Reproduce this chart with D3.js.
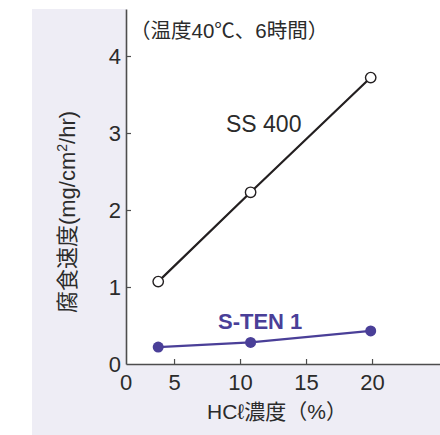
<!DOCTYPE html>
<html><head><meta charset="utf-8">
<script src="https://cdn.jsdelivr.net/npm/d3@7/dist/d3.min.js"></script>
<style>
html,body{margin:0;padding:0;background:#fff;}
svg{display:block;}
text{font-family:"Liberation Sans","Noto Sans CJK JP",sans-serif;}
</style></head>
<body>
<svg id="chart" width="440" height="435"></svg>
<script>
// ---- data ----
const hclConcentration = [3.8, 10.8, 19.9];      // HCℓ濃度 (%)
const ss400Rate = [1.07, 2.23, 3.72];            // SS 400 腐食速度
const sten1Rate = [0.22, 0.28, 0.43];            // S-TEN 1 腐食速度
const xTickValues = [5, 10, 15, 20];
const xOriginLabel = "0";
const yTickValues = [0, 1, 2, 3, 4];
const seriesNames = ["SS 400", "S-TEN 1"];
const xTitle = "HCℓ濃度（%）";
const yTitleMain = "腐食速度(mg/cm";
const yTitleSup = "2";
const yTitleEnd = "/hr)";
const note = "（温度40℃、6時間）";

// ---- layout ----
const svg = d3.select("#chart");
const W = 440, H = 435;
const panel = {x: 32, y: 9};
const plot = {left: 126, top: 9, right: 440, bottom: 364};

svg.append("rect").attr("x", panel.x).attr("y", panel.y)
  .attr("width", W - panel.x).attr("height", H - panel.y).attr("fill", "#eeedf5");
svg.append("rect").attr("x", plot.left).attr("y", plot.top)
  .attr("width", plot.right - plot.left).attr("height", plot.bottom - plot.top).attr("fill", "#ffffff");

const x = d3.scaleLinear().domain([1.36, 25.15]).range([plot.left, plot.right]);
const y = d3.scaleLinear().domain([0, (plot.bottom - plot.top) / 77]).range([plot.bottom, plot.top]);

const axisColor = "#4d4d4d";
const labelColor = "#2b2b2b";

const gx = svg.append("g").attr("transform", `translate(0,${plot.bottom})`)
  .call(d3.axisBottom(x).tickValues(xTickValues).tickFormat(d3.format("d"))
    .tickSizeInner(-5).tickSizeOuter(0).tickPadding(10));
const gy = svg.append("g").attr("transform", `translate(${plot.left},0)`)
  .call(d3.axisLeft(y).tickValues(yTickValues).tickFormat(d3.format("d"))
    .tickSizeInner(-5).tickSizeOuter(0).tickPadding(5));

[gx, gy].forEach(g => {
  g.select(".domain").attr("stroke", axisColor).attr("stroke-width", 1.6);
  g.selectAll(".tick line").attr("stroke", axisColor).attr("stroke-width", 1.2);
  g.selectAll(".tick text").attr("fill", labelColor).style("font-size", "22px")
    .style("font-family", "'Liberation Sans', sans-serif");
});
gy.selectAll(".tick").filter(d => d === 0).select("line").remove();

// x origin label "0"
svg.append("text").attr("x", x.range()[0]).attr("y", plot.bottom + 10).attr("dy", "0.71em")
  .attr("text-anchor", "middle").attr("fill", labelColor).style("font-size", "22px")
  .text(xOriginLabel);

// titles
svg.append("text").attr("x", 277).attr("y", 419).attr("text-anchor", "middle")
  .attr("fill", labelColor).style("font-size", "21px").text(xTitle);

const yt = svg.append("text").attr("transform", `translate(75,212) rotate(-90)`)
  .attr("text-anchor", "middle").attr("fill", labelColor).style("font-size", "22px");
yt.append("tspan").text(yTitleMain);
yt.append("tspan").attr("dy", -8).style("font-size", "14px").text(yTitleSup);
yt.append("tspan").attr("dy", 8).text(yTitleEnd);

svg.append("text").attr("x", 130).attr("y", 38).attr("fill", labelColor)
  .style("font-size", "20.5px").text(note);

// ---- series ----
const ss = hclConcentration.map((c, i) => ({c, v: ss400Rate[i]}));
const st = hclConcentration.map((c, i) => ({c, v: sten1Rate[i]}));
const line = d3.line().x(d => x(d.c)).y(d => y(d.v));

const purple = "#4a3f98";
svg.append("path").datum(st).attr("d", line).attr("fill", "none")
  .attr("stroke", purple).attr("stroke-width", 2.2);
svg.selectAll("circle.st").data(st).join("circle").attr("class", "st")
  .attr("cx", d => x(d.c)).attr("cy", d => y(d.v)).attr("r", 5.5).attr("fill", purple);

svg.append("path").datum(ss).attr("d", line).attr("fill", "none")
  .attr("stroke", "#231f20").attr("stroke-width", 2.2);
svg.selectAll("circle.ss").data(ss).join("circle").attr("class", "ss")
  .attr("cx", d => x(d.c)).attr("cy", d => y(d.v)).attr("r", 5.2)
  .attr("fill", "#fff").attr("stroke", "#231f20").attr("stroke-width", 1.4);

svg.append("text").attr("x", 226).attr("y", 132).attr("fill", labelColor)
  .style("font-size", "23px").text(seriesNames[0]);
svg.append("text").attr("x", 218).attr("y", 329).attr("fill", purple)
  .style("font-size", "22px").style("font-weight", "bold").text(seriesNames[1]);
</script>
</body></html>
